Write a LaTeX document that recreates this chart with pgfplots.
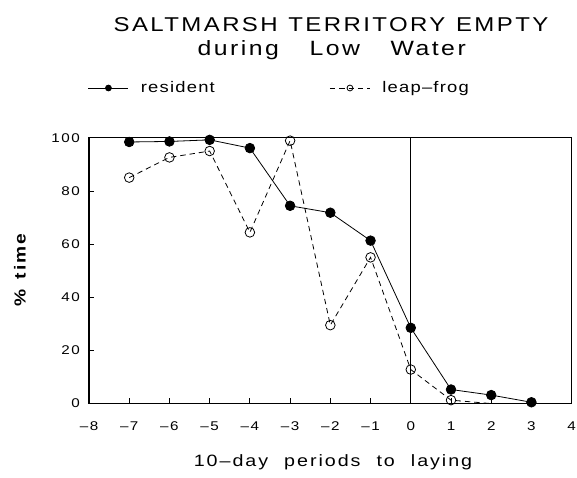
\documentclass[border=0pt]{standalone}
\usepackage{fontspec}
\setmainfont{Liberation Sans}
\newfontfamily\tfont[LetterSpace=12,FakeStretch=1.2]{Liberation Sans}
\newfontfamily\lfont[LetterSpace=8,FakeStretch=1.2]{Liberation Sans}
\usepackage{pgfplots}
\pgfplotsset{compat=1.18}
\begin{document}
\begin{tikzpicture}
\begin{axis}[
  scale only axis, width=362pt, height=199.4pt,
  xmin=-8, xmax=4, ymin=0, ymax=100,
  xtick={-8,-7,-6,-5,-4,-3,-2,-1,0,1,2,3,4},
  xticklabels={–8,–7,–6,–5,–4,–3,–2,–1,0,1,2,3,4},
  ytick={0,20,40,60,80,100},
  /pgf/number format/assume math mode=true,
  xtick pos=lower, ytick pos=left,
  tick align=inside, major tick length=4pt,
  tick style={black, line width=0.6pt},
  tick label style={font=\tfont\fontsize{9.5}{11}\selectfont, inner sep=0pt},
  xticklabel style={anchor=center, yshift=-16.9pt},
  yticklabel style={anchor=east, xshift=-6.75pt},
  axis line style={line width=0.9pt},
  legend columns=2,
  reverse legend,
  legend cell align=left,
  legend image code/.code={%
    \draw[#1, mark size=2.2pt] (0pt,0pt) -- (30pt,0pt);
    \draw[#1, mark size=2.2pt] plot coordinates {(15pt,0pt)};},
  legend style={draw=none, fill=none, inner sep=0pt, outer sep=0pt,
    at={(axis description cs:-0.002,1.187)}, anchor=west,
    nodes={inner sep=0pt},
    font=\lfont\fontsize{11.5}{13}\selectfont,
    /tikz/every odd column/.append style={column sep=9pt},
    /tikz/every even column/.append style={column sep=86pt}},
]
\addplot[black, line width=0.6pt, forget plot] coordinates {(0,0) (0,100)};
\addplot[black, line width=0.6pt, dash pattern=on 4pt off 3pt,
  mark=o, mark size=3.6pt, mark options={solid, fill=white},
  mark indices={1,2,3,4,5,6,7,8,9}] coordinates {
  (-7,85.0) (-6,92.6) (-5,95.0) (-4,64.4) (-3,98.9) (-2,29.5) (-1,55.0) (0,12.8) (1,1.3) (2,0) (3,0)};
\addplot[black, line width=0.6pt, mark=*, mark size=3.6pt, mark options={solid, fill=black}] coordinates {
  (-7,98.4) (-6,98.6) (-5,99.2) (-4,96.1) (-3,74.4) (-2,71.8) (-1,61.3) (0,28.5) (1,5.3) (2,3.2) (3,0.5)};
\legend{leap–frog, resident}
\coordinate (bl) at (rel axis cs:0,0);
\coordinate (tr) at (rel axis cs:1,1);
\end{axis}
\node[inner sep=0pt] at ([xshift=181.5pt,yshift=283.9pt]bl) {\tfont\fontsize{15}{18}\selectfont SALTMARSH\hspace{8pt}TERRITORY\hspace{8pt}EMPTY};
\node[inner sep=0pt] at ([xshift=182pt,yshift=265pt]bl) {\tfont\fontsize{15.5}{18}\selectfont during\hspace{23pt}Low\hspace{23pt}Water};
\node[inner sep=0pt] at ([xshift=183pt,yshift=-44pt]bl) {\tfont\fontsize{12.3}{14}\selectfont 10–day\hspace{12pt}periods\hspace{12pt}to\hspace{12pt}laying};
\node[rotate=90, inner sep=0pt] at ([xshift=-51.75pt,yshift=100pt]bl) {\tfont\bfseries\fontsize{12}{14}\selectfont \%\hspace{8pt}time};
\pgfresetboundingbox
\path ([xshift=-66.75pt,yshift=-55.1pt]bl) rectangle ([xshift=4pt,yshift=103.3pt]tr);
\end{tikzpicture}
\end{document}
